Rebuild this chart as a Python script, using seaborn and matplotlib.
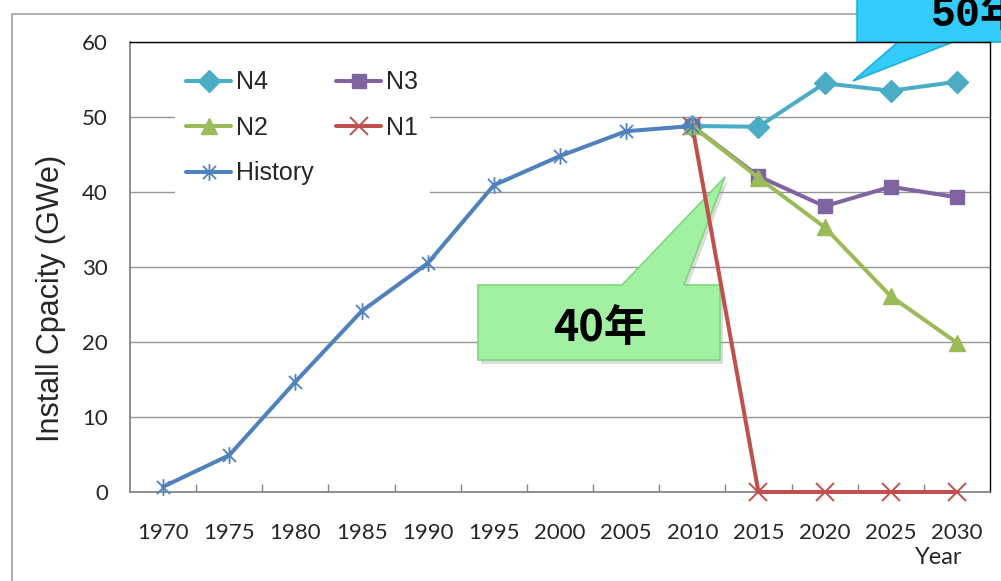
import numpy as np
import matplotlib
matplotlib.use("Agg")
import matplotlib.pyplot as plt
from matplotlib.path import Path
from matplotlib.patches import Polygon
from matplotlib.lines import Line2D
import seaborn as sns

# Installed nuclear capacity (GWe): history and four outlook scenarios
history_years = [1970, 1975, 1980, 1985, 1990, 1995, 2000, 2005, 2010]
history = [0.7, 4.9, 14.7, 24.1, 30.5, 40.9, 44.8, 48.1, 48.8]
scenario_years = [2010, 2015, 2020, 2025, 2030]
n4 = [48.8, 48.7, 54.5, 53.5, 54.7]
n3 = [48.8, 42.1, 38.1, 40.7, 39.3]
n2 = [48.8, 41.9, 35.3, 26.1, 19.9]
n1 = [48.8, 0.0, 0.0, 0.0, 0.0]
category_years = list(range(1970, 2031, 5))
year_labels = [str(y) for y in category_years]
y_ticks = [0, 10, 20, 30, 40, 50, 60]

sns.set_style("white")
plt.rcParams["font.family"] = ["Liberation Sans", "Noto Sans CJK JP"]

W, H = 1001, 581
fig = plt.figure(figsize=(W / 100, H / 100), dpi=100)
ax = fig.add_axes([130 / W, 1 - 492 / H, 860 / W, 450 / H])


def px(x, y):
    """Pixel position (from top-left) to figure fraction."""
    return (x / W, 1 - y / H)


# Asterisk-style marker: vertical stroke plus an X
star = Path(
    [(0, -1), (0, 1), (-0.78, -0.78), (0.78, 0.78), (-0.78, 0.78), (0.78, -0.78)],
    [Path.MOVETO, Path.LINETO, Path.MOVETO, Path.LINETO, Path.MOVETO, Path.LINETO],
)

series = [
    ("N4", scenario_years, n4, "#4BACC6", "D", 11, 1.0),
    ("N1", scenario_years, n1, "#C0504D", "x", 12.5, 1.4),
    ("N3", scenario_years, n3, "#8064A2", "s", 10.5, 1.0),
    ("N2", scenario_years, n2, "#9BBB59", "^", 11.5, 1.0),
    ("History", history_years, history, "#4F81BD", star, 12, 1.3),
]
for name, xs, ys, color, marker, ms, mew in series:
    sns.lineplot(x=xs, y=ys, ax=ax, color=color, lw=2.9, marker=marker,
                 markersize=ms, mec=color, mfc=color, mew=mew, label=name,
                 zorder=3, clip_on=False)

# Callout shapes (box + pointer) drawn between the grid and the lines
green_shape = [px(478, 285), px(622, 285), px(725, 177), px(684, 285),
               px(720, 285), px(720, 360), px(478, 360)]
green_shadow = [(x + 3 / W, y - 4 / H) for x, y in green_shape]
ax.add_patch(Polygon(green_shadow, closed=True, transform=fig.transFigure,
                     facecolor="#9a9a9a", alpha=0.35, edgecolor="none",
                     clip_on=False, zorder=1.4))
ax.add_patch(Polygon(green_shape, closed=True, transform=fig.transFigure,
                     facecolor="#A2F0A2", edgecolor="#7ED67E", lw=1.2,
                     clip_on=False, zorder=1.5))
ax.text(*px(600, 328), "40年", transform=fig.transFigure, ha="center",
        va="center", fontsize=31, fontweight="bold",
        family=["Noto Sans CJK JP"], color="black", zorder=4)

blue_shape = [px(857, -5), px(1010, -5), px(1010, 42), px(953, 42),
              px(853, 81), px(898, 42), px(857, 42)]
ax.add_patch(Polygon(blue_shape, closed=True, transform=fig.transFigure,
                     facecolor="#33CCFA", edgecolor="#22AEDC", lw=1.2,
                     clip_on=False, zorder=1.5))
ax.text(*px(931, 26), "50年", transform=fig.transFigure, ha="left",
        va="baseline", fontsize=30, fontweight="bold",
        family=["Liberation Mono", "Noto Sans CJK JP"], color="black",
        zorder=4, clip_on=False)

# Axes styling
ax.set_xlim(1967.5, 2032.5)
ax.set_ylim(0, 60)
ax.set_xticks(category_years)
ax.set_xticklabels(year_labels, fontsize=16, family="Lato")
ax.set_xticks(np.arange(1972.5, 2030, 5), minor=True)
ax.tick_params(axis="x", which="major", length=0, pad=22.5)
ax.tick_params(axis="x", which="minor", direction="in", length=5.5,
               width=1.0, color="#868686", bottom=True)
ax.set_yticks(y_ticks)
ax.set_yticklabels([str(v) for v in y_ticks], fontsize=16, family="Lato")
ax.tick_params(axis="y", length=0, pad=16)
ax.set_axisbelow(True)
ax.yaxis.grid(True, color="#969696", lw=1.0)
ax.xaxis.grid(False)
for side in ("left", "bottom"):
    ax.spines[side].set_color("#868686")
    ax.spines[side].set_linewidth(1.3)
for side in ("top", "right"):
    ax.spines[side].set_color("black")
    ax.spines[side].set_linewidth(1.0)
ax.set_xlabel("")
ax.set_ylabel("")

fig.text(*px(51, 298), "Install Cpacity (GWe)", rotation=90, ha="center",
         va="center", fontsize=22)
fig.text(*px(939, 557), "Year", ha="center", va="center", fontsize=17,
         family="Lato")

# Legend: two columns, filled column-wise
handles, labels = ax.get_legend_handles_labels()
lookup = dict(zip(labels, handles))
order = ["N4", "N2", "History", "N3", "N1"]
leg = ax.legend([lookup[k] for k in order], order, ncol=2, loc="upper left",
                bbox_to_anchor=px(175, 59), bbox_transform=fig.transFigure,
                borderaxespad=0, fontsize=18, handlelength=1.8,
                handletextpad=0.2, labelspacing=0.86, columnspacing=0.9,
                borderpad=0.45, fancybox=False, frameon=True)
leg.get_frame().set_facecolor("white")
leg.get_frame().set_edgecolor("none")
leg.get_frame().set_alpha(1.0)
leg.set_zorder(5)

# Outer chart border (only top and left edges fall inside the image)
fig.add_artist(Line2D([12 / W, 12 / W, 1.0], [0.0, 1 - 14 / H, 1 - 14 / H],
                      transform=fig.transFigure, color="#A0A0A0", lw=1.2,
                      zorder=0))

fig.savefig("out.png", dpi=100)
